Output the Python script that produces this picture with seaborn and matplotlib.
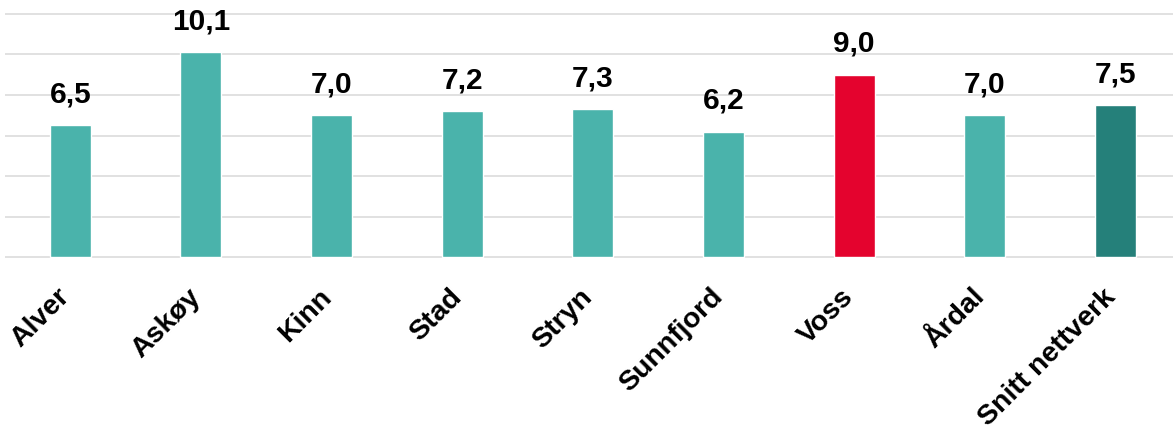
import matplotlib
matplotlib.use("Agg")
import matplotlib.pyplot as plt
import matplotlib.transforms as mtransforms
import seaborn as sns
import pandas as pd

# Data
kommuner = ["Alver", "Askøy", "Kinn", "Stad", "Stryn", "Sunnfjord", "Voss", "Årdal", "Snitt nettverk"]
verdier = [6.5, 10.1, 7.0, 7.2, 7.3, 6.2, 9.0, 7.0, 7.5]
farger = ["#4AB3AB", "#4AB3AB", "#4AB3AB", "#4AB3AB", "#4AB3AB", "#4AB3AB", "#E4032E", "#4AB3AB", "#25807A"]

df = pd.DataFrame({"kommune": kommuner, "verdi": verdier})

sns.set_style("white")
plt.rcParams["font.family"] = ["Liberation Sans", "DejaVu Sans"]

fig = plt.figure(figsize=(11.73, 4.4), dpi=100)
ax = fig.add_axes([5 / 1173, 1 - 259.5 / 440, 1168 / 1173, 259.5 / 440])

sns.barplot(data=df, x="kommune", y="verdi", hue="kommune", palette=farger,
            width=0.314, legend=False, ax=ax, saturation=1)

# Value labels with Norwegian decimal comma
etiketter = [f"{v:.1f}".replace(".", ",") for v in verdier]
for cont in ax.containers:
    for bar in cont:
        i = int(round(bar.get_x() + bar.get_width() / 2))
        ax.annotate(etiketter[i], (bar.get_x() + bar.get_width() / 2, bar.get_height()),
                    xytext=(0, 17), textcoords="offset pixels", ha="center", va="bottom",
                    fontsize=21.5, fontweight="bold", color="black")

ax.set_xlim(-0.5, 8.44)
ax.set_ylim(-0.1, 12.68)
ax.set_yticks([0, 2, 4, 6, 8, 10, 12])
ax.yaxis.grid(True, color="#D9D9D9", linewidth=1.1)
ax.set_axisbelow(True)
ax.tick_params(axis="y", left=False, labelleft=False)
ax.tick_params(axis="x", bottom=False, pad=14, labelcolor="black")
for s in ax.spines.values():
    s.set_visible(False)

ax.set_xlabel("")
ax.set_ylabel("")
offset = mtransforms.ScaledTranslation(5 / 100, 0, fig.dpi_scale_trans)
for lab in ax.get_xticklabels():
    lab.set_rotation(45)
    lab.set_ha("right")
    lab.set_fontsize(20.5)
    lab.set_fontweight("bold")
    lab.set_color("black")
    lab.set_transform(lab.get_transform() + offset)

fig.savefig("out.png", dpi=100)
